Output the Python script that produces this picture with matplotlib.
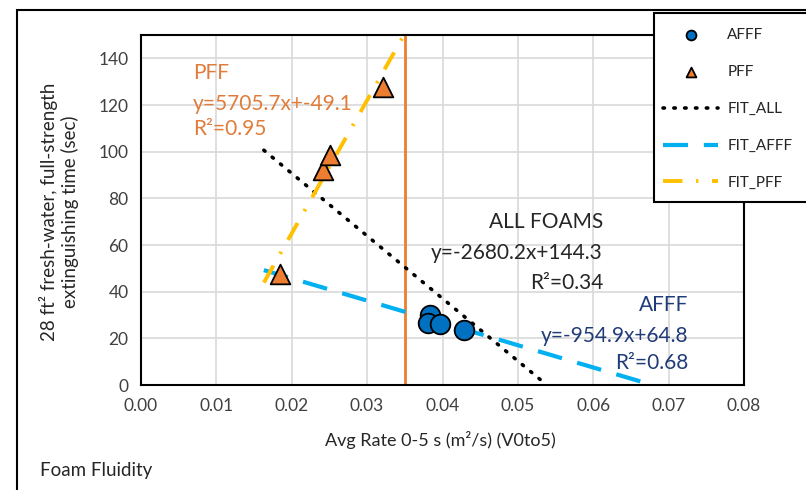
import matplotlib
matplotlib.use('Agg')
import matplotlib.pyplot as plt
import matplotlib.patches as patches
import numpy as np

plt.rcParams['font.family'] = ['Lato', 'DejaVu Sans']

# AFFF points
afff_x = [0.0384, 0.0381, 0.0397, 0.0429]
afff_y = [30.0, 26.6, 26.2, 23.6]

# PFF points
pff_x = [0.0184, 0.0241, 0.0251, 0.0321]
pff_y = [47.6, 92.3, 98.7, 127.5]

# trend lines: slope, intercept, x range
fit_all = (-2680.2, 144.3)
fit_all_x = [0.0163, 0.0538]
fit_afff = (-954.9, 64.8)
fit_afff_x = [0.0163, 0.0679]
fit_pff = (5705.7, -49.1)
fit_pff_x = [0.0163, 0.0349]

# vertical marker line
vline_x = 0.035

x_ticks = [0.00, 0.01, 0.02, 0.03, 0.04, 0.05, 0.06, 0.07, 0.08]
y_ticks = [0, 20, 40, 60, 80, 100, 120, 140]

W, H = 806, 490
fig = plt.figure(figsize=(W / 100, H / 100), dpi=100)


def fx(px):
    return px / W


def fy(py):
    return 1 - py / H


ax = fig.add_axes([fx(141), fy(385), (744 - 141) / W, (385 - 35) / H])

ax.set_xlim(0, 0.08)
ax.set_ylim(0, 150)
ax.set_xticks(x_ticks)
ax.set_xticklabels([f'{t:.2f}' for t in x_ticks])
ax.set_yticks(y_ticks)
ax.grid(True, color='#D9D9D9', linewidth=1.2)
ax.set_axisbelow(True)
ax.tick_params(length=0, labelsize=12.5, colors='#404040', pad=9)
for s in ax.spines.values():
    s.set_color('black')
    s.set_linewidth(1.5)

# vertical line
ax.plot([vline_x, vline_x], [0, 150], color='#ED7D31', linewidth=2, zorder=2)

# fits
xa = np.array(fit_all_x)
ax.plot(xa, fit_all[0] * xa + fit_all[1], color='black', linewidth=2.6,
        linestyle=(0, (0.4, 2.6)), dash_capstyle='round', label='FIT_ALL', zorder=3)
xf = np.array(fit_afff_x)
ax.plot(xf, fit_afff[0] * xf + fit_afff[1], color='#00B0F0', linewidth=3,
        linestyle=(0, (6, 3.8)), label='FIT_AFFF', zorder=3)
xp = np.array(fit_pff_x)
ax.plot(xp, fit_pff[0] * xp + fit_pff[1], color='#FFC000', linewidth=2.8,
        linestyle=(0, (5, 3.5, 0.6, 3.5)), label='FIT_PFF', zorder=3)

# points
ax.scatter(afff_x, afff_y, s=200, marker='o', facecolor='#0070C0',
           edgecolor='black', linewidth=1.3, zorder=5, label='AFFF')
ax.scatter(pff_x, pff_y, s=200, marker='^', facecolor='#ED7D31',
           edgecolor='black', linewidth=1.3, zorder=5, label='PFF')

# annotations
fs = 15
fig.text(fx(193), fy(73), 'PFF', color='#E07B39', fontsize=fs, va='center')
fig.text(fx(193), fy(104), 'y=5705.7x+-49.1', color='#E07B39', fontsize=fs, va='center')
fig.text(fx(193), fy(129), 'R²=0.95', color='#E07B39', fontsize=fs, va='center')

fig.text(fx(603), fy(222), 'ALL FOAMS', color='#262626', fontsize=fs, va='center', ha='right')
fig.text(fx(603), fy(253), 'y=-2680.2x+144.3', color='#262626', fontsize=fs, va='center', ha='right')
fig.text(fx(603), fy(283), 'R²=0.34', color='#262626', fontsize=fs, va='center', ha='right')

fig.text(fx(688), fy(305), 'AFFF', color='#203C78', fontsize=fs, va='center', ha='right')
fig.text(fx(688), fy(336), 'y=-954.9x+64.8', color='#203C78', fontsize=fs, va='center', ha='right')
fig.text(fx(688), fy(363), 'R²=0.68', color='#203C78', fontsize=fs, va='center', ha='right')

# axis labels
fig.text(fx(59), fy(212), '28 ft² fresh-water, full-strength\nextinguishing time (sec)',
         rotation=90, ha='center', va='center', fontsize=13.5, color='#262626',
         linespacing=1.15)
fig.text(fx(440), fy(440), 'Avg Rate 0-5 s (m²/s) (V0to5)', ha='center', va='center',
         fontsize=13, color='#262626')
fig.text(fx(40), fy(470), 'Foam Fluidity', ha='left', va='center',
         fontsize=13.5, color='#262626')

# outer frame
fig.patches.append(patches.Rectangle((fx(17), -0.1), 1.2, fy(10) + 0.1,
                                     transform=fig.transFigure, fill=False,
                                     edgecolor='black', linewidth=1.5))

# legend with frame drawn separately so it runs off the right edge
handles, labels = ax.get_legend_handles_labels()
order = [labels.index(n) for n in ['AFFF', 'PFF', 'FIT_ALL', 'FIT_AFFF', 'FIT_PFF']]
leg = fig.legend([handles[i] for i in order], [labels[i] for i in order],
                 loc='upper left', bbox_to_anchor=(fx(657), fy(22)),
                 frameon=True, facecolor='white', edgecolor='none',
                 fontsize=11, labelspacing=1.5, handlelength=3.6,
                 handletextpad=0.6, borderpad=0.4, borderaxespad=0,
                 markerscale=0.5)
for t in leg.get_texts():
    t.set_color('#262626')
fig.patches.append(patches.Rectangle((fx(654), fy(202)), 0.3, fy(13) - fy(202),
                                     transform=fig.transFigure, facecolor='white',
                                     edgecolor='black', linewidth=1.5, zorder=5))
leg.set_zorder(10)

fig.savefig('out.png', dpi=100)
